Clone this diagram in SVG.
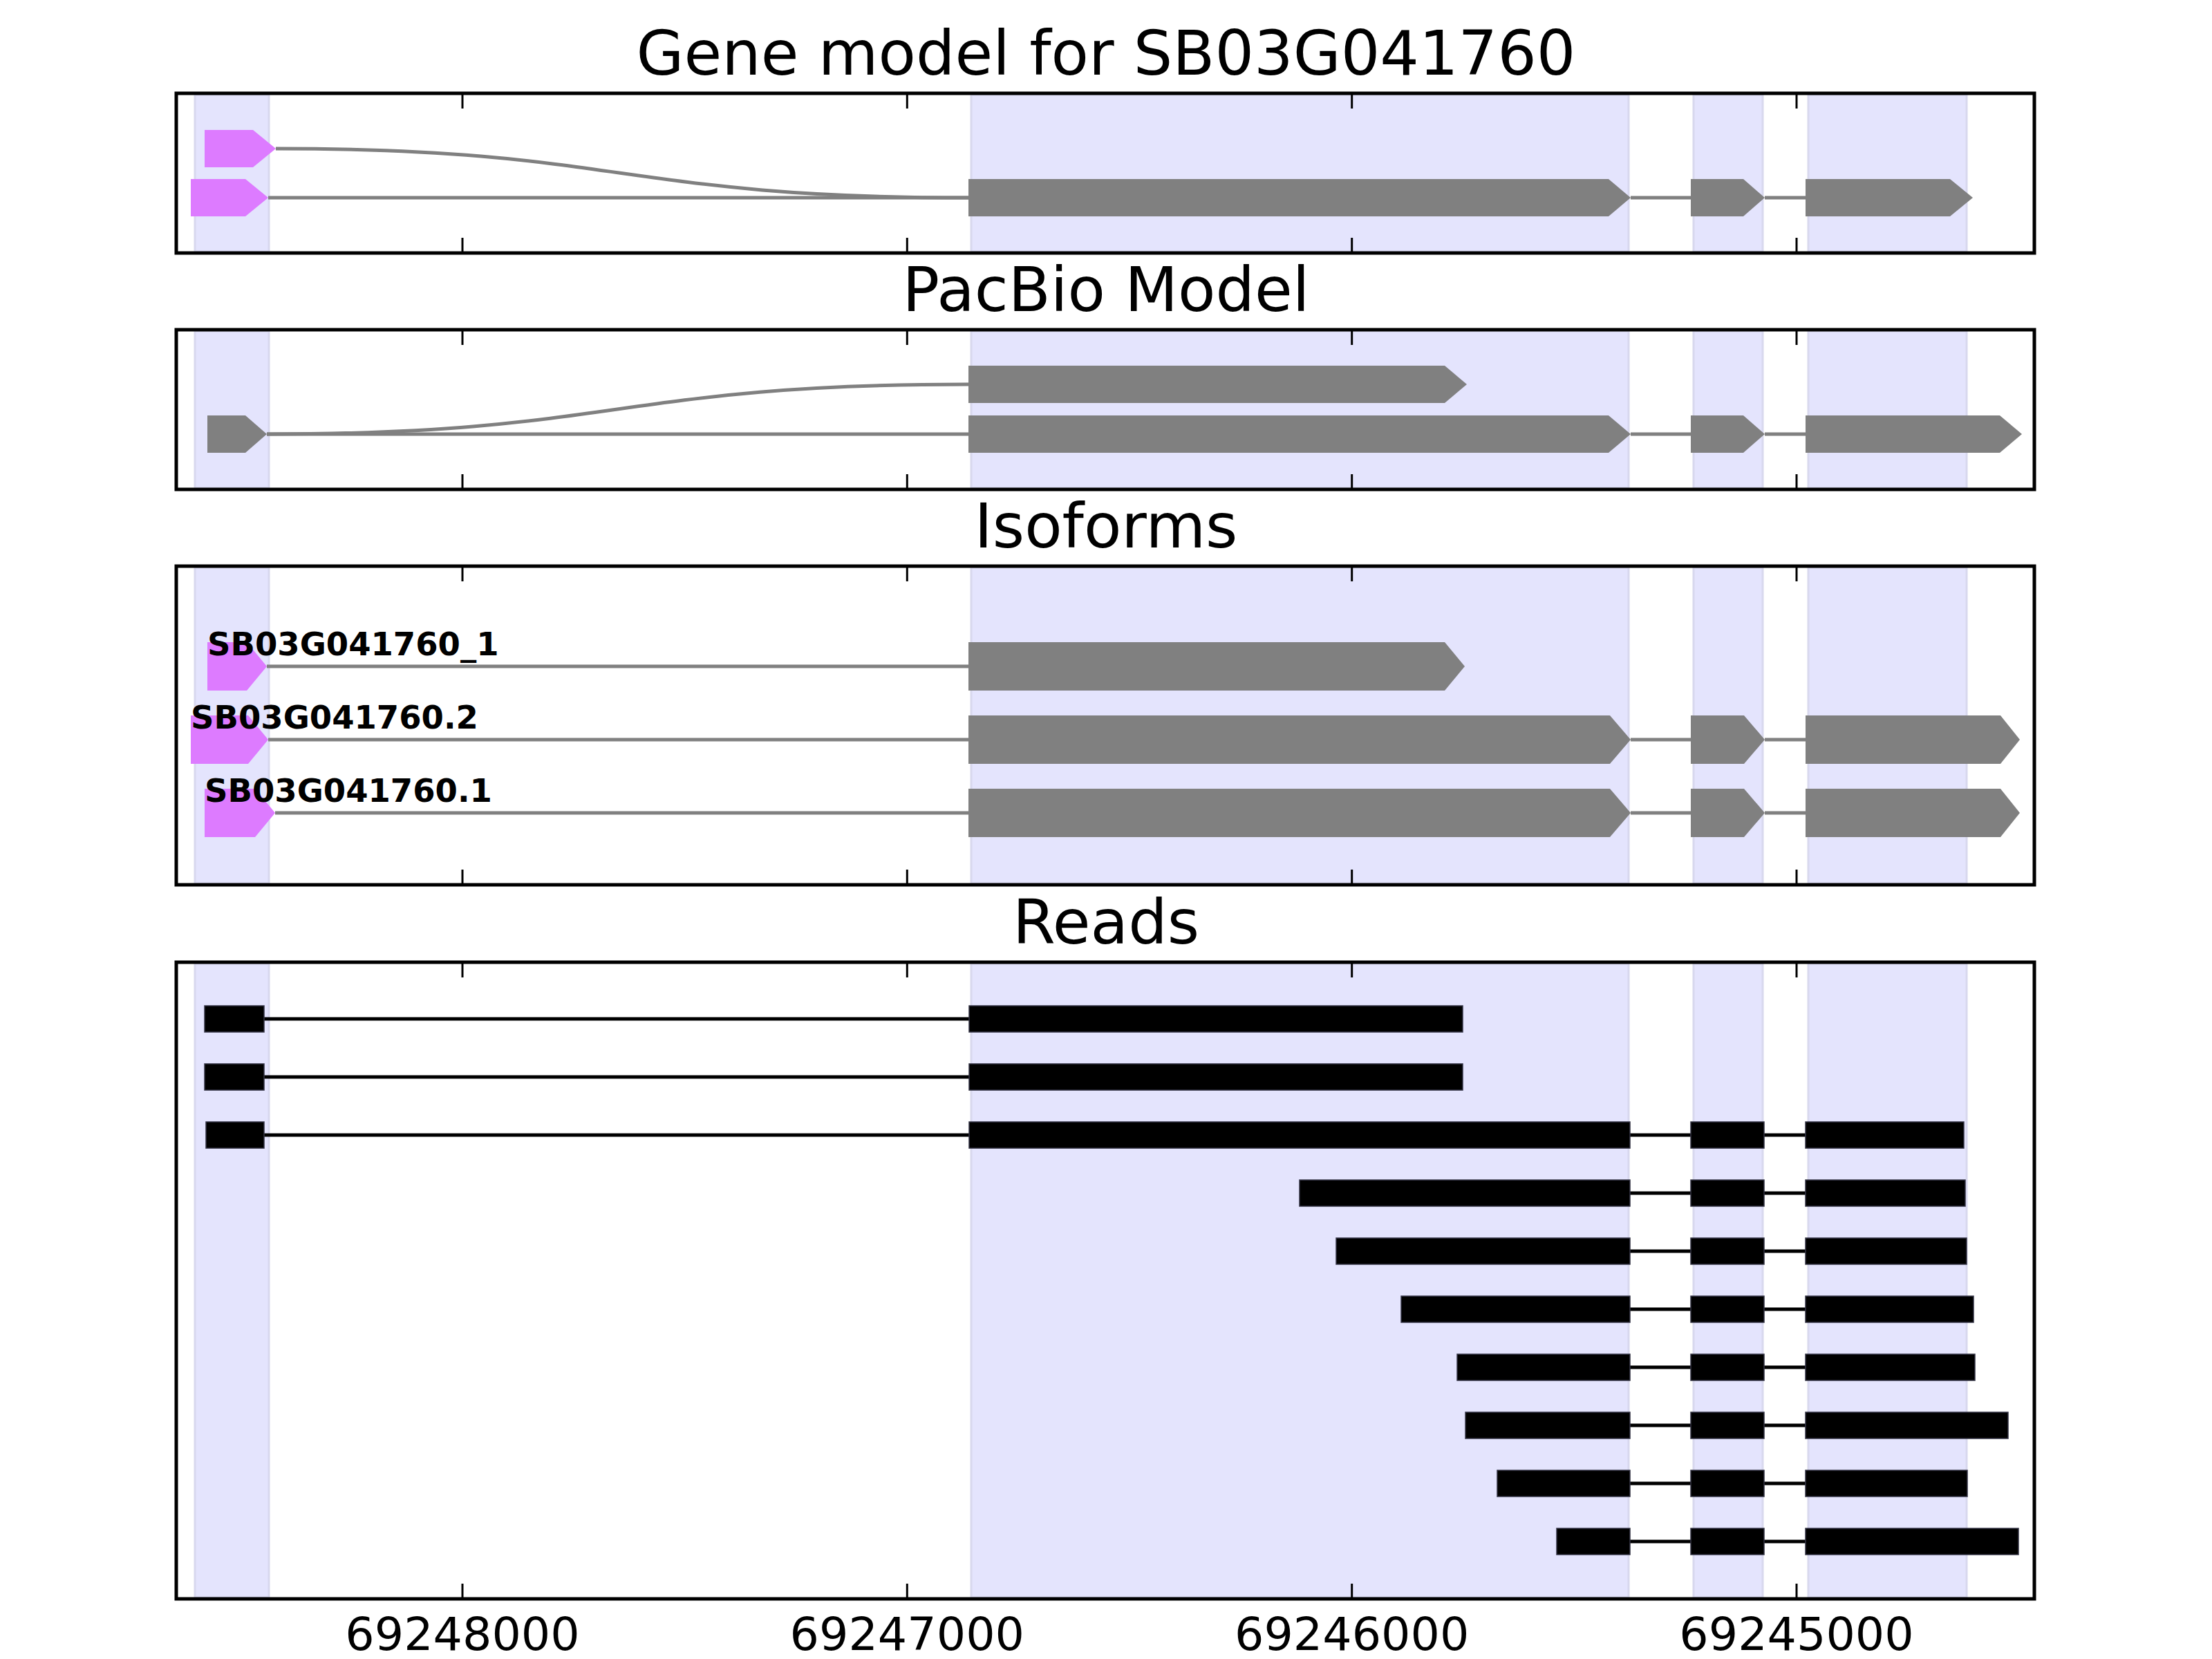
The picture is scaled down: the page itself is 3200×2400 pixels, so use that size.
<svg xmlns="http://www.w3.org/2000/svg" width="3200" height="2400" viewBox="0 0 3200 2400">
<style>
.bg{fill:#fff}
.band{fill:#e4e4fd;stroke:#d8d8ee;stroke-width:3}
.frame{fill:none;stroke:#000;stroke-width:5}
.tick{stroke:#000;stroke-width:3}
.exg{fill:#808080}
.exm{fill:#dd7bff}
.intron{fill:none;stroke:#808080;stroke-width:5}
.read{fill:#000;stroke:#333344;stroke-width:1.5}
.rline{stroke:#000;stroke-width:5}
.title{font-family:"DejaVu Sans","Liberation Sans",sans-serif;font-size:89px;text-anchor:middle;fill:#000}
.tl{font-family:"DejaVu Sans","Liberation Sans",sans-serif;font-size:66.7px;text-anchor:middle;fill:#000}
.lbl{font-family:"DejaVu Sans","Liberation Sans",sans-serif;font-weight:bold;font-size:46.5px;fill:#000}
</style>
<defs>
<g id="ticks">
<line class="tick" x1="669" y1="0" x2="669" y2="22"/>
<line class="tick" x1="1312.3" y1="0" x2="1312.3" y2="22"/>
<line class="tick" x1="1955.7" y1="0" x2="1955.7" y2="22"/>
<line class="tick" x1="2599" y1="0" x2="2599" y2="22"/>
</g>
</defs>
<rect class="bg" x="0" y="0" width="3200" height="2400"/>

<!-- titles -->
<text class="title" x="1600" y="108">Gene model for SB03G041760</text>
<text class="title" x="1600" y="450">PacBio Model</text>
<text class="title" x="1600" y="792">Isoforms</text>
<text class="title" x="1600" y="1365">Reads</text>

<!-- exon bands -->
<g id="bands">
<rect class="band" x="282" y="137" width="107" height="227"/>
<rect class="band" x="1405" y="137" width="951" height="227"/>
<rect class="band" x="2450" y="137" width="100" height="227"/>
<rect class="band" x="2616" y="137" width="229" height="227"/>
<rect class="band" x="282" y="479" width="107" height="227"/>
<rect class="band" x="1405" y="479" width="951" height="227"/>
<rect class="band" x="2450" y="479" width="100" height="227"/>
<rect class="band" x="2616" y="479" width="229" height="227"/>
<rect class="band" x="282" y="821" width="107" height="457"/>
<rect class="band" x="1405" y="821" width="951" height="457"/>
<rect class="band" x="2450" y="821" width="100" height="457"/>
<rect class="band" x="2616" y="821" width="229" height="457"/>
<rect class="band" x="282" y="1394" width="107" height="917"/>
<rect class="band" x="1405" y="1394" width="951" height="917"/>
<rect class="band" x="2450" y="1394" width="100" height="917"/>
<rect class="band" x="2616" y="1394" width="229" height="917"/>
</g>

<!-- connectors (introns) -->
<g id="connectors">
<path class="intron" d="M399,215 C899,215 899,286 1401,286"/>
<line class="intron" x1="388" y1="286" x2="1401" y2="286"/>
<line class="intron" x1="2359" y1="286" x2="2446" y2="286"/>
<line class="intron" x1="2553" y1="286" x2="2612" y2="286"/>

<path class="intron" d="M386,628 C893,628 893,556 1401,556"/>
<line class="intron" x1="386" y1="628" x2="1401" y2="628"/>
<line class="intron" x1="2359" y1="628" x2="2446" y2="628"/>
<line class="intron" x1="2553" y1="628" x2="2612" y2="628"/>

<line class="intron" x1="386" y1="964" x2="1401" y2="964"/>
<line class="intron" x1="388" y1="1070" x2="1401" y2="1070"/>
<line class="intron" x1="2359" y1="1070" x2="2446" y2="1070"/>
<line class="intron" x1="2553" y1="1070" x2="2612" y2="1070"/>
<line class="intron" x1="398" y1="1176" x2="1401" y2="1176"/>
<line class="intron" x1="2359" y1="1176" x2="2446" y2="1176"/>
<line class="intron" x1="2553" y1="1176" x2="2612" y2="1176"/>

<line class="rline" x1="382" y1="1474" x2="1402" y2="1474"/>
<line class="rline" x1="382" y1="1558" x2="1402" y2="1558"/>
<line class="rline" x1="382" y1="1642" x2="1402" y2="1642"/>
<line class="rline" x1="2358" y1="1642" x2="2446" y2="1642"/>
<line class="rline" x1="2552" y1="1642" x2="2612" y2="1642"/>
<line class="rline" x1="2358" y1="1726" x2="2446" y2="1726"/>
<line class="rline" x1="2552" y1="1726" x2="2612" y2="1726"/>
<line class="rline" x1="2358" y1="1810" x2="2446" y2="1810"/>
<line class="rline" x1="2552" y1="1810" x2="2612" y2="1810"/>
<line class="rline" x1="2358" y1="1894" x2="2446" y2="1894"/>
<line class="rline" x1="2552" y1="1894" x2="2612" y2="1894"/>
<line class="rline" x1="2358" y1="1978" x2="2446" y2="1978"/>
<line class="rline" x1="2552" y1="1978" x2="2612" y2="1978"/>
<line class="rline" x1="2358" y1="2062" x2="2446" y2="2062"/>
<line class="rline" x1="2552" y1="2062" x2="2612" y2="2062"/>
<line class="rline" x1="2358" y1="2146" x2="2446" y2="2146"/>
<line class="rline" x1="2552" y1="2146" x2="2612" y2="2146"/>
<line class="rline" x1="2358" y1="2230" x2="2446" y2="2230"/>
<line class="rline" x1="2552" y1="2230" x2="2612" y2="2230"/>
</g>

<!-- Gene model -->
<g id="gene-model">
<polygon id="gm-a-e1" class="exm" points="296,188 366,188 399,215 366,242 296,242"/>
<polygon id="gm-b-e1" class="exm" points="276,259 355,259 388,286 355,313 276,313"/>
<polygon id="gm-b-e2" class="exg" points="1401,259 2327,259 2359,286 2327,313 1401,313"/>
<polygon id="gm-b-e3" class="exg" points="2446,259 2522,259 2553,286 2522,313 2446,313"/>
<polygon id="gm-b-e4" class="exg" points="2612,259 2821,259 2854,286 2821,313 2612,313"/>
</g>

<!-- PacBio -->
<g id="pacbio">
<polygon id="pb-a-e2" class="exg" points="1401,529 2090,529 2122,556 2090,583 1401,583"/>
<polygon id="pb-b-e1" class="exg" points="300,601 355,601 386,628 355,655 300,655"/>
<polygon id="pb-b-e2" class="exg" points="1401,601 2327,601 2359,628 2327,655 1401,655"/>
<polygon id="pb-b-e3" class="exg" points="2446,601 2522,601 2553,628 2522,655 2446,655"/>
<polygon id="pb-b-e4" class="exg" points="2612,601 2893,601 2925,628 2893,655 2612,655"/>
</g>

<!-- Isoforms -->
<g id="isoform-1">
<polygon class="exm" points="300,929 357,929 386,964 357,999 300,999"/>
<polygon class="exg" points="1401,929 2090,929 2119,964 2090,999 1401,999"/>
<text class="lbl" x="300" y="948">SB03G041760_1</text>
</g>
<g id="isoform-2">
<polygon class="exm" points="276,1035 359,1035 388,1070 359,1105 276,1105"/>
<polygon class="exg" points="1401,1035 2329,1035 2359,1070 2329,1105 1401,1105"/>
<polygon class="exg" points="2446,1035 2523,1035 2553,1070 2523,1105 2446,1105"/>
<polygon class="exg" points="2612,1035 2894,1035 2922,1070 2894,1105 2612,1105"/>
<text class="lbl" x="276" y="1054">SB03G041760.2</text>
</g>
<g id="isoform-3">
<polygon class="exm" points="296,1141 369,1141 398,1176 369,1211 296,1211"/>
<polygon class="exg" points="1401,1141 2329,1141 2359,1176 2329,1211 1401,1211"/>
<polygon class="exg" points="2446,1141 2523,1141 2553,1176 2523,1211 2446,1211"/>
<polygon class="exg" points="2612,1141 2894,1141 2922,1176 2894,1211 2612,1211"/>
<text class="lbl" x="296" y="1160">SB03G041760.1</text>
</g>

<!-- Reads -->
<g id="reads">
<g id="read-1"><rect class="read" x="296" y="1455" width="86" height="38"/><rect class="read" x="1402" y="1455" width="714" height="38"/></g>
<g id="read-2"><rect class="read" x="296" y="1539" width="86" height="38"/><rect class="read" x="1402" y="1539" width="714" height="38"/></g>
<g id="read-3"><rect class="read" x="298" y="1623" width="84" height="38"/><rect class="read" x="1402" y="1623" width="956" height="38"/><rect class="read" x="2446" y="1623" width="106" height="38"/><rect class="read" x="2612" y="1623" width="229" height="38"/></g>
<g id="read-4"><rect class="read" x="1880" y="1707" width="478" height="38"/><rect class="read" x="2446" y="1707" width="106" height="38"/><rect class="read" x="2612" y="1707" width="231" height="38"/></g>
<g id="read-5"><rect class="read" x="1933" y="1791" width="425" height="38"/><rect class="read" x="2446" y="1791" width="106" height="38"/><rect class="read" x="2612" y="1791" width="233" height="38"/></g>
<g id="read-6"><rect class="read" x="2027" y="1875" width="331" height="38"/><rect class="read" x="2446" y="1875" width="106" height="38"/><rect class="read" x="2612" y="1875" width="243" height="38"/></g>
<g id="read-7"><rect class="read" x="2108" y="1959" width="250" height="38"/><rect class="read" x="2446" y="1959" width="106" height="38"/><rect class="read" x="2612" y="1959" width="245" height="38"/></g>
<g id="read-8"><rect class="read" x="2120" y="2043" width="238" height="38"/><rect class="read" x="2446" y="2043" width="106" height="38"/><rect class="read" x="2612" y="2043" width="293" height="38"/></g>
<g id="read-9"><rect class="read" x="2166" y="2127" width="192" height="38"/><rect class="read" x="2446" y="2127" width="106" height="38"/><rect class="read" x="2612" y="2127" width="234" height="38"/></g>
<g id="read-10"><rect class="read" x="2252" y="2211" width="106" height="38"/><rect class="read" x="2446" y="2211" width="106" height="38"/><rect class="read" x="2612" y="2211" width="308" height="38"/></g>
</g>

<!-- axes frames and ticks -->
<g id="axes">
<rect class="frame" x="255" y="135" width="2688" height="231"/>
<use href="#ticks" transform="translate(0,135)"/>
<use href="#ticks" transform="translate(0,366) scale(1,-1)"/>
<rect class="frame" x="255" y="477" width="2688" height="231"/>
<use href="#ticks" transform="translate(0,477)"/>
<use href="#ticks" transform="translate(0,708) scale(1,-1)"/>
<rect class="frame" x="255" y="819" width="2688" height="461"/>
<use href="#ticks" transform="translate(0,819)"/>
<use href="#ticks" transform="translate(0,1280) scale(1,-1)"/>
<rect class="frame" x="255" y="1392" width="2688" height="921"/>
<use href="#ticks" transform="translate(0,1392)"/>
<use href="#ticks" transform="translate(0,2313) scale(1,-1)"/>
<text class="tl" x="669" y="2387">69248000</text>
<text class="tl" x="1312.3" y="2387">69247000</text>
<text class="tl" x="1955.7" y="2387">69246000</text>
<text class="tl" x="2599" y="2387">69245000</text>
</g>
</svg>
